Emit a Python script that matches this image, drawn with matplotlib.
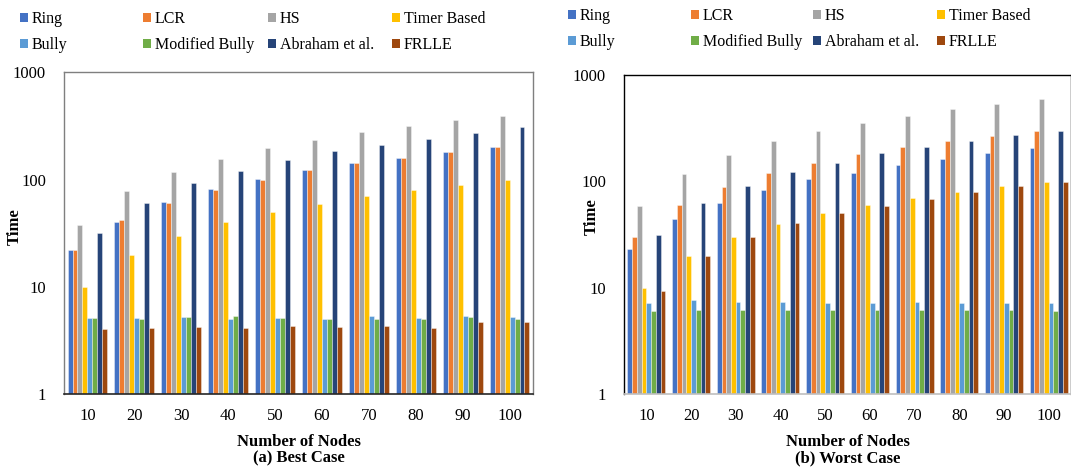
import numpy as np
import matplotlib
matplotlib.use("Agg")
import matplotlib.pyplot as plt
from matplotlib.patches import Patch

plt.rcParams["font.family"] = ["Liberation Serif", "DejaVu Serif"]

nodes = [10, 20, 30, 40, 50, 60, 70, 80, 90, 100]
names = ["Ring", "LCR", "HS", "Timer Based", "Bully", "Modified Bully", "Abraham et al.", "FRLLE"]
colors = ["#4472C4", "#ED7D31", "#A5A5A5", "#FFC000", "#5B9BD5", "#70AD47", "#264478", "#9E480E"]

# best case
ring_best = [22, 40, 62, 81, 101, 123, 143, 158, 182, 200]
lcr_best = [22, 42, 61, 80, 100, 123, 142, 160, 181, 200]
hs_best = [38, 78, 117, 157, 197, 236, 277, 316, 358, 395]
timer_best = [10, 20, 30, 40, 50, 59, 70, 80, 89, 100]
bully_best = [5.1, 5.1, 5.2, 5.0, 5.1, 5.0, 5.3, 5.1, 5.3, 5.2]
mbully_best = [5.1, 5.0, 5.2, 5.3, 5.1, 5.0, 5.0, 5.0, 5.2, 5.0]
abraham_best = [32, 60, 93, 120, 152, 185, 212, 241, 272, 308]
frlle_best = [4.0, 4.1, 4.25, 4.15, 4.35, 4.2, 4.35, 4.1, 4.65, 4.65]

# worst case
ring_worst = [23, 44, 62, 83, 105, 121, 143, 162, 184, 205]
lcr_worst = [30, 60, 88, 120, 148, 180, 210, 239, 268, 298]
hs_worst = [59, 118, 178, 237, 298, 354, 415, 476, 537, 594]
timer_worst = [10, 20, 30, 40, 50, 60, 70, 80, 90, 99]
bully_worst = [7.2, 7.6, 7.3, 7.3, 7.2, 7.1, 7.3, 7.1, 7.2, 7.1]
mbully_worst = [6.0, 6.1, 6.2, 6.1, 6.1, 6.2, 6.2, 6.1, 6.1, 6.0]
abraham_worst = [31, 62, 90, 122, 149, 183, 211, 242, 275, 300]
frlle_worst = [9.4, 19.8, 30, 41, 50, 59, 68, 80, 91, 99]

best = [ring_best, lcr_best, hs_best, timer_best, bully_best, mbully_best, abraham_best, frlle_best]
worst = [ring_worst, lcr_worst, hs_worst, timer_worst, bully_worst, mbully_worst, abraham_worst, frlle_worst]

W, H = 1071, 473
fig = plt.figure(figsize=(W / 100, H / 100), dpi=100)


def px_axes(x0, y0, x1, y1):
    return fig.add_axes([x0 / W, 1 - y1 / H, (x1 - x0) / W, (y1 - y0) / H])


ax1 = px_axes(64, 72.5, 533, 394)
ax2 = px_axes(624, 75, 1071, 394)


def draw(ax, data, caption, side_col, bottom_col, leg_x, leg_y, ylab_xy):
    x = np.arange(len(nodes))
    bw = 0.85 / 8
    for i, (vals, c) in enumerate(zip(data, colors)):
        ax.bar(x + (i - 3.5) * bw, vals, bw, color=c, edgecolor=(1, 1, 1, 0.45), linewidth=0.6)
    ax.set_yscale("log")
    ax.set_ylim(1, 1000)
    ax.set_xlim(-0.5, len(nodes) - 0.5)
    ax.set_yticks([1, 10, 100, 1000])
    ax.set_yticklabels(["1", "10", "100", "1000"])
    ax.minorticks_off()
    ax.set_xticks(x)
    ax.set_xticklabels([str(n) for n in nodes])
    ax.tick_params(axis="both", length=0, labelsize=12)
    ax.tick_params(axis="y", pad=13)
    ax.tick_params(axis="x", pad=10)
    ax.set_ylabel("Time", fontsize=12, fontweight="bold")
    ax.yaxis.set_label_coords(*ylab_xy)
    ax.set_xlabel("Number of Nodes\n" + caption, fontsize=12, fontweight="bold",
                  labelpad=7, linespacing=1.1)
    for s in ["left", "top", "right"]:
        ax.spines[s].set_color(side_col)
        ax.spines[s].set_linewidth(1.0)
    ax.spines["bottom"].set_color(bottom_col)
    ax.spines["bottom"].set_linewidth(1.2)

    # legend: 4 equal-width columns, 2 rows
    for col in range(4):
        handles = [Patch(facecolor=colors[col + 4 * r]) for r in range(2)]
        labels = [names[col + 4 * r] for r in range(2)]
        fig.legend(handles, labels, loc="upper left",
                   bbox_to_anchor=(leg_x[col] / W, 1 - leg_y / H),
                   frameon=False, fontsize=11.5, borderpad=0, borderaxespad=0,
                   handlelength=0.5, handleheight=0.5, handletextpad=0.25,
                   labelspacing=0.62)


draw(ax1, best, "(a) Best Case", "#7f7f7f", "#262626", [20, 143, 268, 392], 11,
     ((23 - 64) / 469, (394 - 227) / 321.5))
draw(ax2, worst, "(b) Worst Case", "#000000", "#bfbfbf", [568, 691, 813, 937], 8,
     ((600 - 624) / 447, (394 - 217) / 319))

fig.savefig("out.png", dpi=100)
